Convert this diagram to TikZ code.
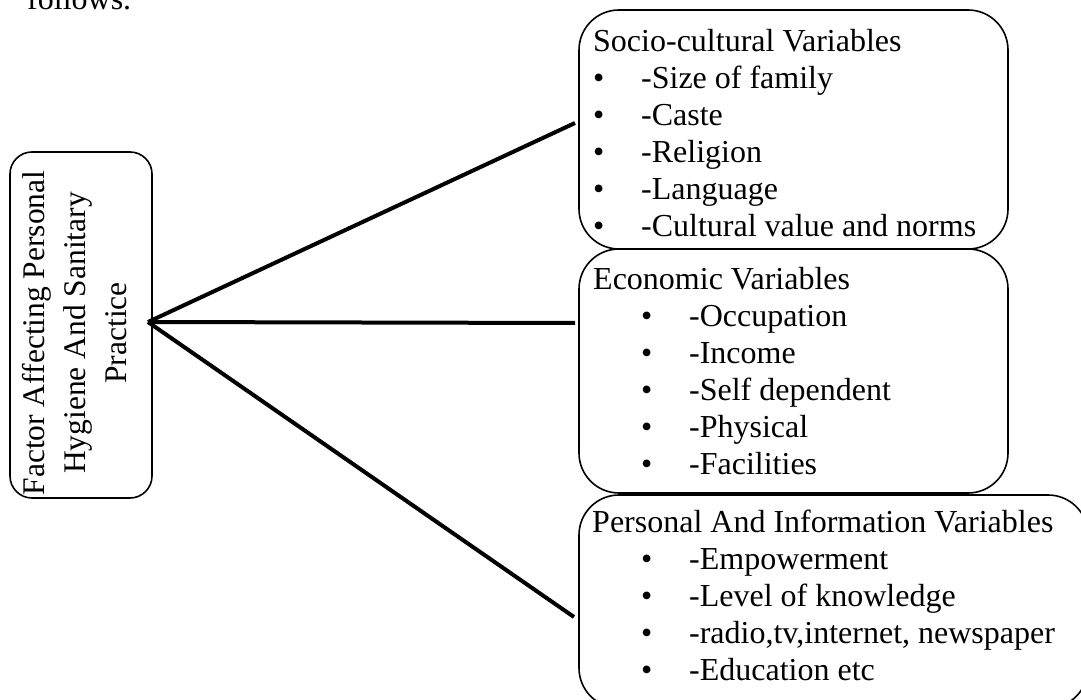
\documentclass[tikz,border=0pt]{standalone}
\usepackage{fontspec}
\setmainfont{Liberation Serif}
\newcommand\bitem[2]{\hbox{\hskip#1\makebox[48pt][l]{\textbullet}#2}}
\begin{document}
\begin{tikzpicture}[x=1pt,y=-1pt,
  box/.style={draw, line width=1.6pt, outer sep=0pt, inner sep=0pt, anchor=north west},
  conn/.style={line width=4pt},
  txt/.style={inner sep=0pt, anchor=base west, font=\fontsize{32}{37}\selectfont}]
\useasboundingbox (0,0) rectangle (1081,700);
\clip (0,0) rectangle (1081,700);

% partial text at the top
\node[txt] (fol) at (27,10) {follows.};

% left box
\node[box, rounded corners=22pt, minimum width=142pt, minimum height=346pt] (lb) at (10,152) {};
\node[inner sep=0pt, rotate=90, align=center, font=\fontsize{31.5}{41}\selectfont] (lbt) at (75,333)
  {Factor Affecting Personal\\Hygiene And Sanitary\\Practice};

% right boxes
\node[box, rounded corners=40pt, minimum width=429pt, minimum height=239pt] (soc) at (579,10) {};
\node[box, rounded corners=40pt, minimum width=429pt, minimum height=244pt] (eco) at (579,249) {};
\node[box, rounded corners=40pt, minimum width=509pt, minimum height=213pt] (per) at (579,495) {};

\node[txt] (soct) at (593,52) {\vtop{%
  \hbox{Socio-cultural Variables}
  \bitem{0pt}{-Size of family}
  \bitem{0pt}{-Caste}
  \bitem{0pt}{-Religion}
  \bitem{0pt}{-Language}
  \bitem{0pt}{-Cultural value and norms}}};

\node[txt] (ecot) at (593,290) {\vtop{%
  \hbox{Economic Variables}
  \bitem{48pt}{-Occupation}
  \bitem{48pt}{-Income}
  \bitem{48pt}{-Self dependent}
  \bitem{48pt}{-Physical}
  \bitem{48pt}{-Facilities}}};

\node[txt] (pert) at (592,532) {\vtop{%
  \hbox{Personal And Information Variables}
  \bitem{49pt}{-Empowerment}
  \bitem{49pt}{-Level of knowledge}
  \bitem{49pt}{-radio,tv,internet, newspaper}
  \bitem{49pt}{-Education etc}}};

% connectors
\coordinate (hub) at (148,322);
\draw[conn] (hub) -- ([xshift=-4pt,yshift=6.5pt]soc.west);
\draw[conn] (hub) -- ([xshift=-4pt,yshift=48pt]eco.west);
\draw[conn] (hub) -- ([xshift=-5pt,yshift=-15.5pt]per.west);
\end{tikzpicture}
\end{document}
